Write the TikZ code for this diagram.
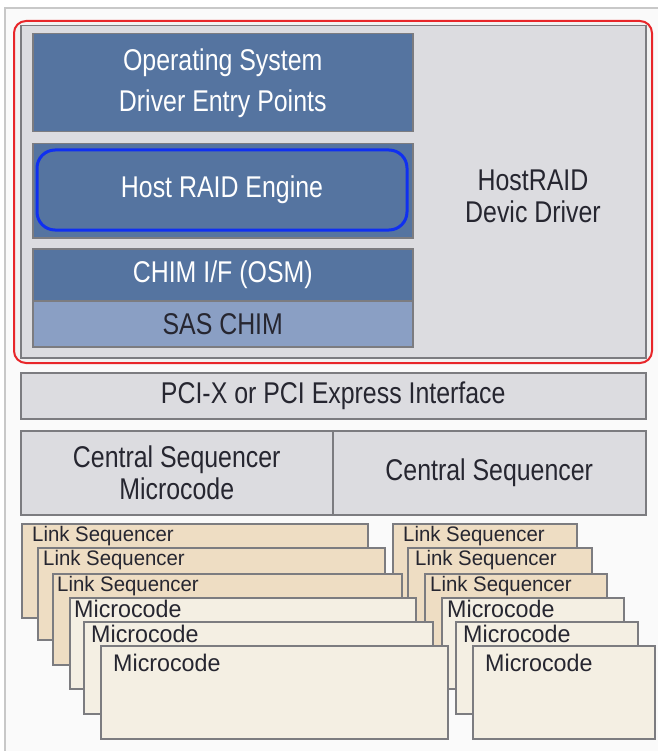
\documentclass[tikz,border=0pt]{standalone}
\usepackage{fontspec}
\setmainfont{Liberation Sans}[FakeStretch=0.83]
\newfontfamily\seqfont{Liberation Sans}[FakeStretch=0.97]
\usetikzlibrary{positioning}
\definecolor{layerblue}{HTML}{5574A0}
\definecolor{chimblue}{HTML}{8A9FC4}
\definecolor{drvgray}{HTML}{DCDCE0}
\definecolor{framegray}{HTML}{C8C8C8}
\definecolor{edgegray}{HTML}{7C7C80}
\definecolor{linktan}{HTML}{EEDDC3}
\definecolor{codecream}{HTML}{F4EFE3}
\definecolor{raidred}{HTML}{E8262A}
\definecolor{engineblue}{HTML}{1030F0}
\definecolor{inktext}{HTML}{262630}

\tikzset{
	layer/.style={draw=edgegray, line width=1.5pt, fill=layerblue, text=white, anchor=north west, inner sep=0pt, align=center, font=\fontsize{30}{32}\selectfont},
	graybox/.style={layer, fill=drvgray, text=inktext},
	seqbox/.style={draw=edgegray, line width=1.5pt, fill=linktan, anchor=north west, inner sep=0pt},
	codebox/.style={seqbox, fill=codecream},
	seqtext/.style={anchor=west, inner sep=0pt, text=inktext, font=\seqfont\fontsize{21}{23}\selectfont},
	codetext/.style={seqtext, font=\seqfont\fontsize{24}{26}\selectfont}
}

\begin{document}
\begin{tikzpicture}[x=1pt, y=-1pt]
		\useasboundingbox[fill=white] (0, 0) rectangle (657, 751);
		\path[draw=framegray, fill=black!2, line width=1.5pt] (5, 8) rectangle (664, 760);

		\node[draw=raidred, line width=2pt, rounded corners=12pt, fill=black!5, anchor=north west, minimum width=638pt, minimum height=342pt] (hostraid) at (13, 20) {};
		\node[graybox, minimum width=625pt, minimum height=332pt] (driver) at (20, 25) {};
		\node[text=inktext, align=center, font=\fontsize{30}{32}\selectfont] (drvtext) at (533, 196) {HostRAID\\Devic Driver};

		\node[layer, font=\fontsize{30}{41}\selectfont, minimum width=380pt, minimum height=98pt] (osentry) at (32, 33) {Operating System\\Driver Entry Points};
		\node[layer, minimum width=380pt, minimum height=94pt] (engine) at (32, 143) {};
		\node[draw=engineblue, line width=3pt, rounded corners=18pt, text=white, font=\fontsize{30}{32}\selectfont, minimum width=370pt, minimum height=80pt] (raideng) at (222, 190) {Host RAID Engine};
		\node[layer, minimum width=380pt, minimum height=52pt] (chimif) at (32, 248) {CHIM I/F (OSM)};
		\node[layer, fill=chimblue, text=inktext, minimum width=380pt, minimum height=46pt] (saschim) at (32, 300) {SAS CHIM};

		\node[graybox, minimum width=625pt, minimum height=46pt] (pci) at (20, 372) {PCI-X or PCI Express Interface};
		\node[graybox, minimum width=312pt, minimum height=84pt] (cseqmc) at (20, 430) {Central Sequencer\\Microcode};
		\node[graybox, minimum width=313pt, minimum height=84pt] (cseq) at (332, 430) {Central Sequencer};

		\node[seqbox, minimum width=184pt, minimum height=94pt] (rlsA) at (392, 523) {};
		\node[seqtext] (rlsAt) at (403, 536) {Link Sequencer};
		\node[seqbox, minimum width=184pt, minimum height=93pt] (rlsB) at (407, 547) {};
		\node[seqtext] (rlsBt) at (415, 560) {Link Sequencer};
		\node[seqbox, minimum width=182pt, minimum height=92pt] (rlsC) at (424, 573) {};
		\node[seqtext] (rlsCt) at (430, 586) {Link Sequencer};
		\node[codebox, minimum width=182pt, minimum height=91pt] (rmcA) at (441, 597) {};
		\node[codetext] (rmcAt) at (447, 609) {Microcode};
		\node[codebox, minimum width=182pt, minimum height=92pt] (rmcB) at (455, 621) {};
		\node[codetext] (rmcBt) at (463, 634) {Microcode};
		\node[codebox, minimum width=182pt, minimum height=93pt] (rmcC) at (472, 645) {};
		\node[codetext] (rmcCt) at (485, 663) {Microcode};

		\node[seqbox, minimum width=346pt, minimum height=94pt] (lsA) at (21, 523) {};
		\node[seqtext] (lsAt) at (32, 536) {Link Sequencer};
		\node[seqbox, minimum width=347pt, minimum height=92pt] (lsB) at (37, 547) {};
		\node[seqtext] (lsBt) at (43, 560) {Link Sequencer};
		\node[seqbox, minimum width=349pt, minimum height=91pt] (lsC) at (52, 573) {};
		\node[seqtext] (lsCt) at (57, 586) {Link Sequencer};
		\node[codebox, minimum width=346pt, minimum height=91pt] (mcA) at (69, 597) {};
		\node[codetext] (mcAt) at (74, 609) {Microcode};
		\node[codebox, minimum width=349pt, minimum height=92pt] (mcB) at (83, 621) {};
		\node[codetext] (mcBt) at (91, 634) {Microcode};
		\node[codebox, minimum width=347pt, minimum height=93pt] (mcC) at (100, 645) {};
		\node[codetext] (mcCt) at (113, 663) {Microcode};
\end{tikzpicture}
\end{document}
